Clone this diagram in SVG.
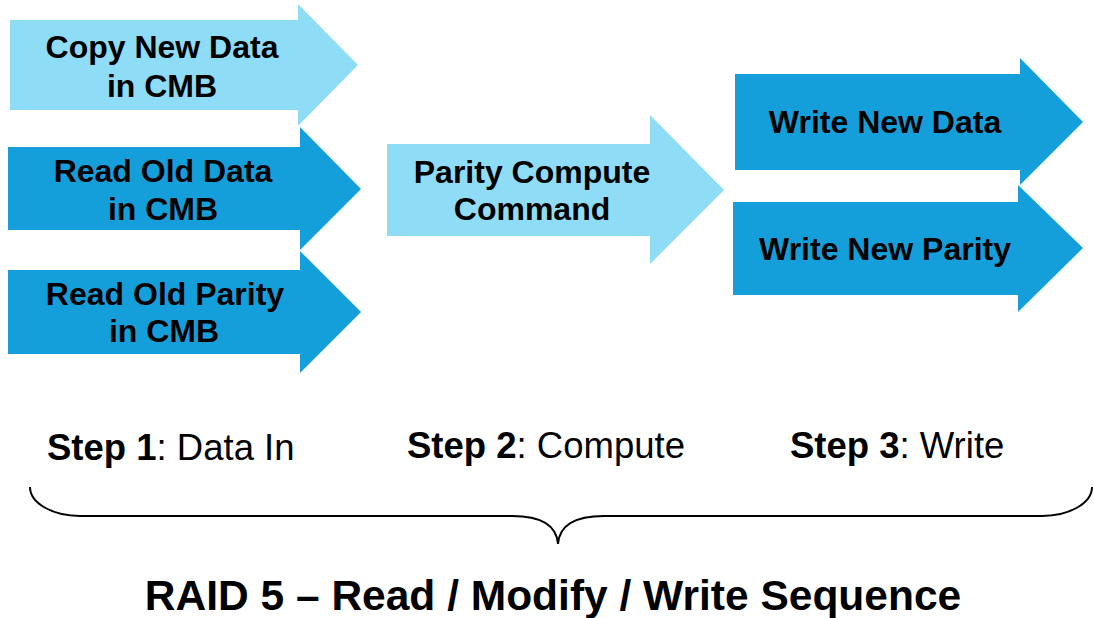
<svg xmlns="http://www.w3.org/2000/svg" width="1094" height="618" viewBox="0 0 1094 618">
  <style>
    .light { fill: #8fdcf7; }
    .dark { fill: #149fdb; }
    .lbl { font-family: "Liberation Sans", Arial, sans-serif; font-weight: bold; font-size: 32px; fill: #000; text-anchor: middle; }
    .step { font-family: "Liberation Sans", Arial, sans-serif; font-size: 36.5px; fill: #000; }
    .step tspan.b { font-weight: bold; }
    .title { font-family: "Liberation Sans", Arial, sans-serif; font-weight: bold; font-size: 42.5px; fill: #000; text-anchor: middle; }
    .brace { fill: none; stroke: #000; stroke-width: 2; }
  </style>

  <!-- Step 1 arrows -->
  <g id="copy-new-data">
    <polygon class="light" points="10,20 298,20 298,4 358,65 298,126 298,110 10,110"/>
    <text class="lbl" x="162" y="58">Copy New Data</text>
    <text class="lbl" x="162" y="97">in CMB</text>
  </g>
  <g id="read-old-data">
    <polygon class="dark" points="8,147 300,147 300,127 361,189 300,250 300,230 8,230"/>
    <text class="lbl" x="163" y="182">Read Old Data</text>
    <text class="lbl" x="163" y="220">in CMB</text>
  </g>
  <g id="read-old-parity">
    <polygon class="dark" points="8,270 300,270 300,251 361,312 300,373 300,354 8,354"/>
    <text class="lbl" x="165" y="305">Read Old Parity</text>
    <text class="lbl" x="164" y="342">in CMB</text>
  </g>

  <!-- Step 2 arrow -->
  <g id="parity-compute">
    <polygon class="light" points="387,144 650,144 650,115 724,190 650,264 650,236 387,236"/>
    <text class="lbl" x="532" y="183">Parity Compute</text>
    <text class="lbl" x="532" y="220">Command</text>
  </g>

  <!-- Step 3 arrows -->
  <g id="write-new-data">
    <polygon class="dark" points="735,74 1020,74 1020,58 1083,122 1020,185 1020,170 735,170"/>
    <text class="lbl" x="885" y="133">Write New Data</text>
  </g>
  <g id="write-new-parity">
    <polygon class="dark" points="733,202 1018,202 1018,185 1083,248 1018,312 1018,295 733,295"/>
    <text class="lbl" x="885" y="260">Write New Parity</text>
  </g>

  <!-- Step captions -->
  <g id="step-captions">
    <text class="step" x="47" y="460"><tspan class="b">Step 1</tspan>: Data In</text>
    <text class="step" x="407" y="458"><tspan class="b">Step 2</tspan>: Compute</text>
    <text class="step" x="790" y="458"><tspan class="b">Step 3</tspan>: Write</text>
  </g>

  <!-- Grouping brace -->
  <g id="connectors">
    <path class="brace" d="M30,487 A50,29 0 0 0 80,516 L512,516 Q556,516 558,544 Q560,516 604,516 L1042,516 A50,29 0 0 0 1092,487"/>
  </g>

  <g id="title">
    <text class="title" x="553" y="610">RAID 5 – Read / Modify / Write Sequence</text>
  </g>
</svg>
